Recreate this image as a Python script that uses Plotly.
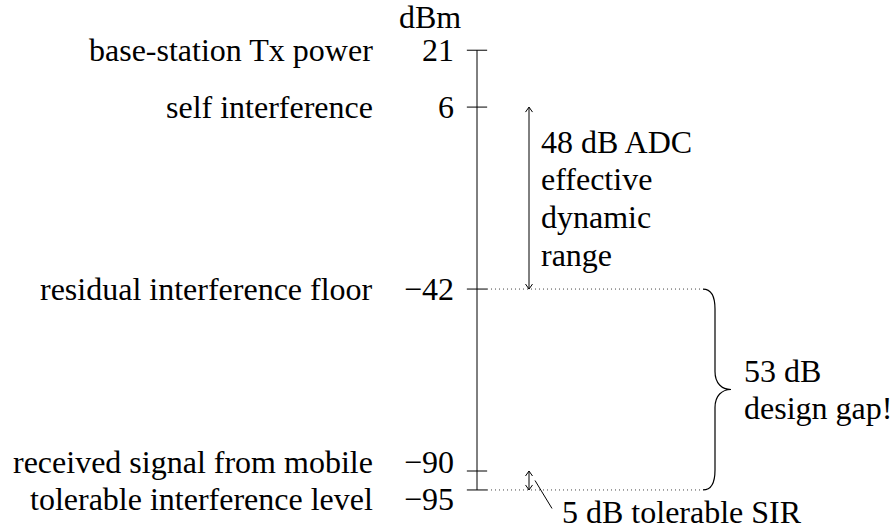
import plotly.graph_objects as go

# ---- data ----
levels = [21, 6, -42, -90, -95]
level_labels = ["base-station Tx power", "self interference", "residual interference floor",
                "received signal from mobile", "tolerable interference level"]
tick_texts = ["21", "6", "\u221242", "\u221290", "\u221295"]
unit = "dBm"
adc_range = [6, -42]          # 48 dB ADC effective dynamic range
gap_range = [-42, -95]        # 53 dB design gap
sir_range = [-90, -95]        # 5 dB tolerable SIR
adc_lines = ["48 dB ADC", "effective", "dynamic", "range"]
gap_lines = ["53 dB", "design gap!"]
sir_text = "5 dB tolerable SIR"

# ---- layout helpers ----
W, H = 895, 529
Y_RANGE = [-105.3, 34.25]
PX_PER_DB = H / (Y_RANGE[1] - Y_RANGE[0])


def d(px):
    return px / PX_PER_DB


FONT = "Liberation Serif"
FS = 32
AXIS_X = 477
BLACK = "#000000"
TXT = dict(family=FONT, size=FS, color=BLACK)

fig = go.Figure()

# axis line
fig.add_trace(go.Scatter(x=[AXIS_X, AXIS_X], y=[max(levels), min(levels)], mode="lines",
                         line=dict(color=BLACK, width=1), hoverinfo="skip", showlegend=False))
# tick marks
fig.add_trace(go.Scatter(x=[AXIS_X] * len(levels), y=levels, mode="markers",
                         marker=dict(symbol="line-ew", size=14.5,
                                     line=dict(color=BLACK, width=1)),
                         hoverinfo="skip", showlegend=False))

annotations = []
label_shift = {-90: 9, -95: -9}
for v, lab, tt in zip(levels, level_labels, tick_texts):
    ys = label_shift.get(v, 0)
    annotations.append(dict(x=455, y=v, text=tt, xanchor="right", yanchor="middle",
                            showarrow=False, yshift=ys, borderpad=0, font=TXT))
    annotations.append(dict(x=374, y=v, text=lab, xanchor="right", yanchor="middle",
                            showarrow=False, yshift=ys, borderpad=0, font=TXT))

annotations.append(dict(x=462, y=max(levels), text=unit, xanchor="right", yanchor="middle",
                        showarrow=False, yshift=33, borderpad=0, font=TXT))

# dotted guide lines at gap levels
shapes = []
for v in gap_range:
    shapes.append(dict(type="line", xref="x", yref="y", x0=AXIS_X + 10, x1=703, y0=v, y1=v,
                       line=dict(color="#444444", width=1, dash="1px,3px")))

# brace
yt, yb = gap_range
ym = (yt + yb) / 2
brace = (f"M 703,{yt} C 712,{yt} 715,{yt - d(8)} 715,{yt - d(20)} "
         f"L 715,{ym + d(18)} C 715,{ym + d(6)} 722,{ym} 731,{ym} "
         f"C 722,{ym} 715,{ym - d(6)} 715,{ym - d(18)} "
         f"L 715,{yb + d(20)} C 715,{yb + d(8)} 712,{yb} 703,{yb}")
shapes.append(dict(type="path", xref="x", yref="y", path=brace, line=dict(color=BLACK, width=1.2)))


def double_arrow(x, a, b):
    top, bot = max(a, b), min(a, b)
    shapes.append(dict(type="line", xref="x", yref="y", x0=x, x1=x, y0=top, y1=bot,
                       line=dict(color=BLACK, width=1)))
    shapes.append(dict(type="path", xref="x", yref="y", xsizemode="pixel", ysizemode="pixel",
                       xanchor=x, yanchor=top, path="M -3.5,-5 L 0,0 L 3.5,-5",
                       line=dict(color=BLACK, width=1)))
    shapes.append(dict(type="path", xref="x", yref="y", xsizemode="pixel", ysizemode="pixel",
                       xanchor=x, yanchor=bot, path="M -3.5,5 L 0,0 L 3.5,5",
                       line=dict(color=BLACK, width=1)))


double_arrow(529, *adc_range)
double_arrow(529, *sir_range)

# leader line for SIR
shapes.append(dict(type="line", xref="x", yref="y", xsizemode="pixel", ysizemode="pixel",
                   xanchor=535, yanchor=sum(sir_range) / 2, x0=0, y0=0, x1=17, y1=-28,
                   line=dict(color=BLACK, width=1)))

# multi-line annotations, one line at a time for tight line spacing
LINE = 37.7
adc_mid = sum(adc_range) / 2
for i, t in enumerate(adc_lines):
    off = (len(adc_lines) - 1) / 2 - i
    annotations.append(dict(x=540, y=adc_mid, text=t, xanchor="left", yanchor="middle",
                            showarrow=False, yshift=off * LINE, borderpad=0, font=TXT))
for i, t in enumerate(gap_lines):
    off = (len(gap_lines) - 1) / 2 - i
    annotations.append(dict(x=743, y=ym, text=t, xanchor="left", yanchor="middle",
                            showarrow=False, yshift=off * LINE, borderpad=0, font=TXT))
annotations.append(dict(x=561, y=min(sir_range), text=sir_text, xanchor="left", yanchor="middle",
                        showarrow=False, yshift=-22, borderpad=0, font=TXT))

fig.update_layout(
    width=W, height=H, margin=dict(l=0, r=0, t=0, b=0),
    paper_bgcolor="white", plot_bgcolor="white",
    xaxis=dict(range=[0, W], visible=False, fixedrange=True),
    yaxis=dict(range=Y_RANGE, visible=False, fixedrange=True),
    shapes=shapes, annotations=annotations, showlegend=False,
)

fig.write_html("out.html", config={"displayModeBar": False},
               post_script="document.body.style.margin='0px';")
